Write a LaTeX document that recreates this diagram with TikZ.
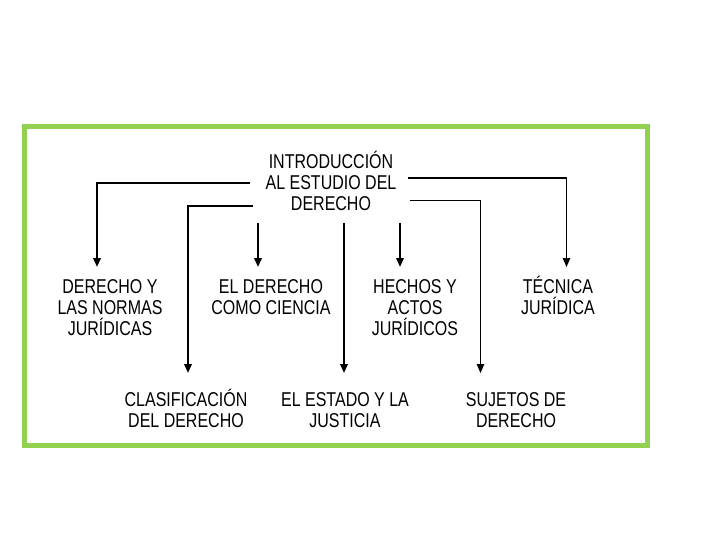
\documentclass[tikz,border=0pt]{standalone}
\usepackage{fontspec}
\setmainfont{Liberation Sans}[FakeStretch=0.8]
\usetikzlibrary{arrows.meta}
\definecolor{framegreen}{RGB}{146,208,80}
\tikzset{
  lbl/.style={inner sep=0pt, outer sep=0pt, align=center, anchor=north,
    font=\fontsize{20}{21}\selectfont},
  conn/.style={line width=2pt, -{Triangle[length=9pt,width=7.5pt]}},
  thinconn/.style={line width=1pt, -{Triangle[length=9pt,width=7.5pt]}},
  thickline/.style={line width=2pt},
}
\newcommand{\acc}{\vphantom{ÁÉ}}
\begin{document}
\begin{tikzpicture}[x=1pt,y=-1pt]
\useasboundingbox (0,0) rectangle (720,540);
\fill[white] (0,0) rectangle (720,540);
\draw[framegreen, line width=5pt] (24.5,126.5) rectangle (647.5,445.5);

\node[lbl] (root) at (331,151) {\acc INTRODUCCIÓN\\AL ESTUDIO DEL\\DERECHO};

\node[lbl] (n1) at (110,276) {\acc DERECHO Y\\LAS NORMAS\\JURÍDICAS};
\node[lbl] (n2) at (271,276) {\acc EL DERECHO\\COMO CIENCIA};
\node[lbl] (n3) at (415,276) {\acc HECHOS Y\\ACTOS\\JURÍDICOS};
\node[lbl] (n4) at (558,276) {\acc TÉCNICA\\JURÍDICA};
\node[lbl] (n5) at (186,389) {\acc CLASIFICACIÓN\\DEL DERECHO};
\node[lbl] (n6) at (345,389) {\acc EL ESTADO Y LA\\JUSTICIA};
\node[lbl] (n7) at (516,389) {\acc SUJETOS DE\\DERECHO};

\coordinate (s1) at (250,183);
\coordinate (s2) at (253,206);
\coordinate (s3) at (258,223);
\coordinate (s4) at (344,223);
\coordinate (s5) at (400,223);
\coordinate (s6) at (408,178);
\coordinate (c6) at (566.5,178);
\coordinate (s7) at (410,200.5);

\draw[conn] (s1) -| ([xshift=-13pt,yshift=9pt]n1.north);
\draw[conn] (s2) -| ([xshift=2pt,yshift=16pt]n5.north);
\draw[conn] (s3) -- ([xshift=-13pt,yshift=9pt]n2.north);
\draw[conn] (s4) -- ([xshift=-1pt,yshift=16pt]n6.north);
\draw[conn] (s5) -- ([xshift=-15pt,yshift=9pt]n3.north);
\draw[thickline] (s6) -- ([xshift=0.5pt]c6);
\draw[thinconn] (c6) -- ([xshift=8.5pt,yshift=9pt]n4.north);
\draw[thinconn] (s7) -| ([xshift=-35.5pt,yshift=16pt]n7.north);
\end{tikzpicture}
\end{document}
